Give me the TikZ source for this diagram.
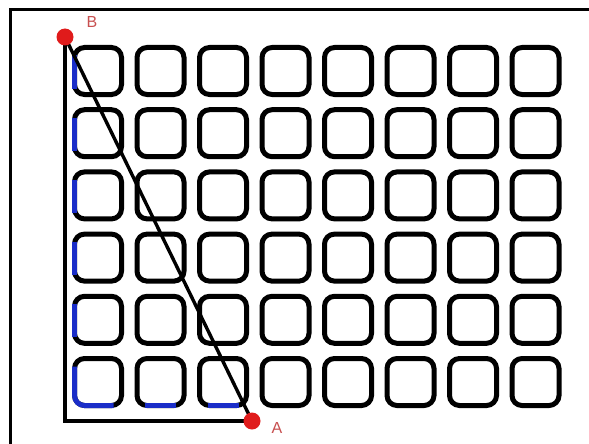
\documentclass[tikz,border=0pt]{standalone}
\usepackage{fontspec}
\setmainfont{Liberation Sans}
\definecolor{dotred}{HTML}{E01B1B}
\definecolor{lblred}{HTML}{C85050}
\definecolor{pathblue}{HTML}{1A2DC8}
\begin{document}
\begin{tikzpicture}[x=1pt,y=-1pt,
  cell/.style={draw=black,line width=5pt,rounded corners=10pt,minimum size=47pt,inner sep=0pt,outer sep=0pt},
  bluepart/.style={draw=pathblue,line width=5pt},
  lshape/.style={draw=black,line width=4.6pt},
  diag/.style={draw=black,line width=3.4pt},
  dot/.style={circle,fill=dotred,minimum size=17pt,inner sep=0pt},
  lbl/.style={text=lblred,font=\fontsize{16}{16}\selectfont,inner sep=0pt}]
\useasboundingbox (0,0) rectangle (589,444);
\fill[white] (0,0) rectangle (589,444);
% frame
\coordinate (fbl) at (10,446);
\coordinate (ftl) at (10,10);
\coordinate (ftr) at (591,10);
\draw[line width=3pt] (fbl) -- (ftl) -- (ftr);
% grid
\foreach \i in {1,...,8}{
  \foreach \j in {1,...,6}{
    \node[cell] (c-\i-\j) at ({98+62.5*(\i-1)},{71+62.2*(\j-1)}) {};
  }
}
% blue parts
\foreach \j in {1,...,5}{
  \draw[bluepart] ([yshift=-8pt]c-1-\j.north west) -- ([yshift=6pt]c-1-\j.south west);
}
\draw[bluepart,rounded corners=10pt] ([yshift=-8pt]c-1-6.north west) -- (c-1-6.south west) -- ([xshift=-8pt]c-1-6.south east);
\draw[bluepart] ([xshift=8pt]c-2-6.south west) -- ([xshift=-8pt]c-2-6.south east);
\draw[bluepart] ([xshift=8pt]c-3-6.south west) -- ([xshift=-8pt]c-3-6.south east);
% points
\coordinate (B) at (65,37);
\coordinate (A) at (252,421);
\draw[lshape] (B) |- (A);
\draw[diag] (B) -- (A);
\node[dot] (dB) at (B) {};
\node[dot] (dA) at (A) {};
\node[lbl] (lB) at (92,22) {B};
\node[lbl] (lA) at (277,428) {A};
\end{tikzpicture}
\end{document}
